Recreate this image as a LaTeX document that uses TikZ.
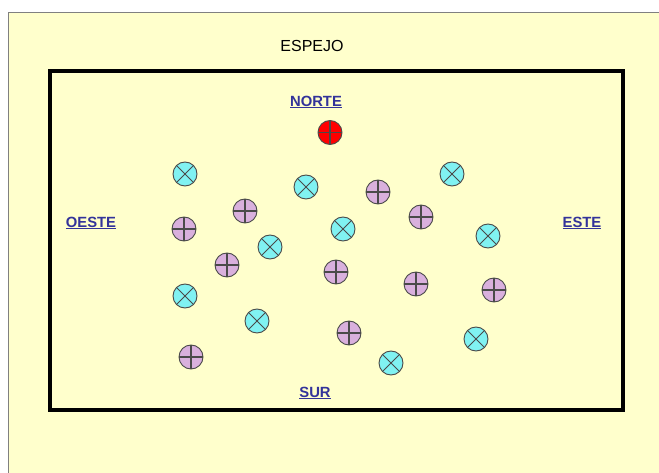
\documentclass[tikz,border=0pt]{standalone}
\usepackage{fontspec}
\setmainfont{Liberation Sans}
\definecolor{bgyellow}{HTML}{FFFFCC}
\definecolor{ballcyan}{HTML}{80F2F2}
\definecolor{ballpink}{HTML}{D9B0DD}
\definecolor{labelblue}{HTML}{33339A}
\definecolor{ballline}{HTML}{4A4A4A}
\tikzset{
  ball/.style={circle, draw=ballline, line width=0.9pt, minimum size=24pt, inner sep=0pt},
  xball/.style={ball, fill=ballcyan, path picture={
     \draw[ballline, line width=1pt] (path picture bounding box.north west) -- (path picture bounding box.south east);
     \draw[ballline, line width=1pt] (path picture bounding box.south west) -- (path picture bounding box.north east);}},
  pball/.style={ball, fill=#1, path picture={
     \draw[ballline, line width=1.1pt] (path picture bounding box.north) -- (path picture bounding box.south);
     \draw[ballline, line width=1.1pt] (path picture bounding box.west) -- (path picture bounding box.east);}},
  pball/.default=ballpink,
  dirlabel/.style={font=\fontsize{14.8}{17}\selectfont\bfseries, text=labelblue, inner sep=0pt},
}
\newcommand{\ulbl}[1]{\underline{#1}}
\begin{document}
\begin{tikzpicture}[x=1pt,y=-1pt]
\useasboundingbox (0,0) rectangle (659,473);
\fill[white] (0,0) rectangle (659,473);
\fill[bgyellow] (8,12) rectangle (659,473);
\draw[gray, line width=0.8pt] (8,473) -- (8,12) -- (659,12);
\node[font=\fontsize{16}{18}\selectfont, inner sep=0pt] (espejo) at (312,46) {ESPEJO};
\draw[black, line width=3.5pt] (50,71) rectangle (623,410);
\node[dirlabel] (norte) at (316,102) {\ulbl{NORTE}};
\node[dirlabel] (oeste) at (91,223) {\ulbl{OESTE}};
\node[dirlabel] (este) at (582,223) {\ulbl{ESTE}};
\node[dirlabel] (sur) at (315,393) {\ulbl{SUR}};
\node[pball=red] (rojo) at (330,132.5) {};
% cyan X balls
\node[xball] (c1) at (185,174) {};
\node[xball] (c2) at (306,187) {};
\node[xball] (c3) at (452,174) {};
\node[xball] (c4) at (343,229) {};
\node[xball] (c5) at (270,247) {};
\node[xball] (c6) at (488,236) {};
\node[xball] (c7) at (185,296) {};
\node[xball] (c8) at (257,321) {};
\node[xball] (c9) at (476,339) {};
\node[xball] (c10) at (391,363) {};
% pink + balls
\node[pball] (p1) at (378,192) {};
\node[pball] (p2) at (245,211) {};
\node[pball] (p3) at (421,217) {};
\node[pball] (p4) at (184,229) {};
\node[pball] (p5) at (227,265) {};
\node[pball] (p6) at (336,272) {};
\node[pball] (p7) at (416,284) {};
\node[pball] (p8) at (494,290) {};
\node[pball] (p9) at (349,333) {};
\node[pball] (p10) at (191,357) {};
\end{tikzpicture}
\end{document}
